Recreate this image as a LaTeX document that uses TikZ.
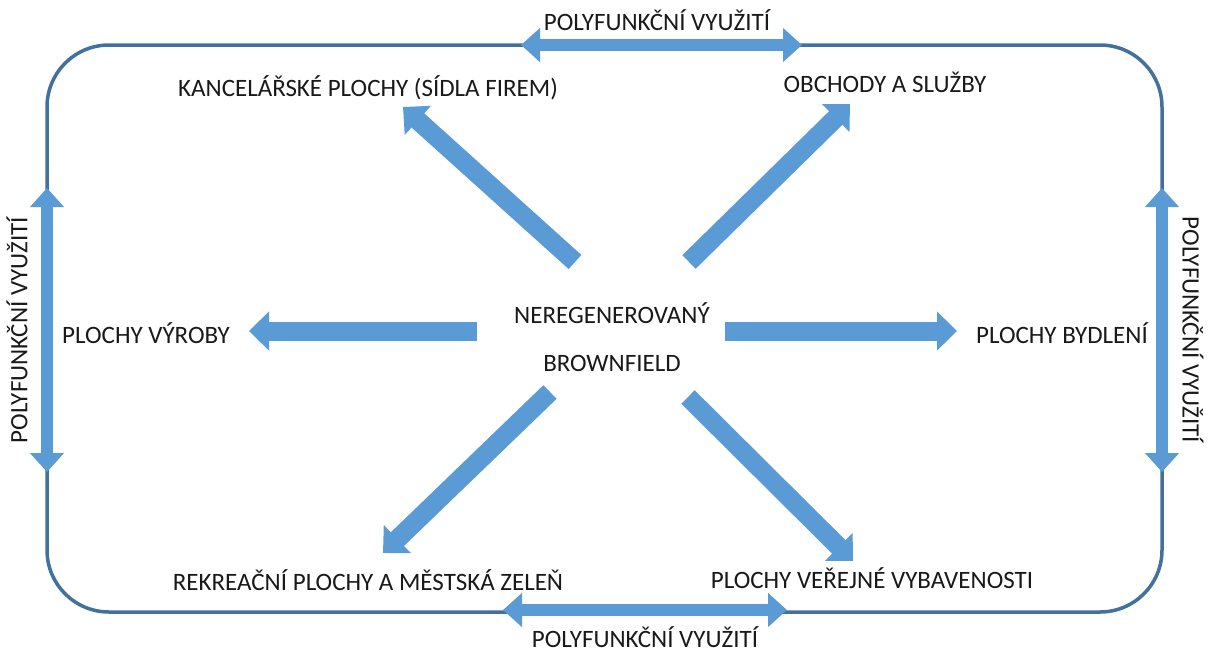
\documentclass[tikz,border=0pt]{standalone}
\usepackage{fontspec}
\setmainfont{Carlito}
\usetikzlibrary{arrows.meta}
\definecolor{frameblue}{HTML}{41719C}
\definecolor{arrowblue}{HTML}{5B9BD5}
\tikzset{
  lbl/.style={font=\fontsize{25}{30}\selectfont, text=black!90, inner sep=0pt},
  frame/.style={draw=frameblue, line width=3.5pt, rounded corners=62pt},
  blockarrow/.style={line width=19pt, draw=arrowblue, -{Triangle[width=38pt,length=20pt,fill=arrowblue]}},
  polyarrow/.style={line width=12pt, draw=arrowblue, {Triangle[width=33pt,length=19pt,fill=arrowblue]}-{Triangle[width=33pt,length=19pt,fill=arrowblue]}}
}
\begin{document}
\begin{tikzpicture}[x=1pt,y=-1pt]
\useasboundingbox (0,0) rectangle (1208,649);
\fill[white] (0,0) rectangle (1208,649);
% frame
\node[frame, minimum width=1115pt, minimum height=567pt, inner sep=0pt] (frm) at (604.5,328.5) {};
% polyfunctional arrows
\coordinate (tA) at (521,45); \coordinate (tB) at (802,45);
\coordinate (bA) at (503,610); \coordinate (bB) at (787,610);
\coordinate (lA) at (47,188); \coordinate (lB) at (47,472);
\coordinate (rA) at (1162,188); \coordinate (rB) at (1162,472);
\draw[polyarrow] (tA) -- (tB);
\draw[polyarrow] (bA) -- (bB);
\draw[polyarrow] (lA) -- (lB);
\draw[polyarrow] (rA) -- (rB);
% polyfunctional labels
\node[lbl] (pt) at (657,20) {POLYFUNKČNÍ VYUŽITÍ};
\node[lbl] (pb) at (645,637) {POLYFUNKČNÍ VYUŽITÍ};
\node[lbl, rotate=90] (pl) at (17,330) {POLYFUNKČNÍ VYUŽITÍ};
\node[lbl, rotate=-90] (pr) at (1193,330) {POLYFUNKČNÍ VYUŽITÍ};
% center
\node[lbl] (c1) at (612,313) {NEREGENEROVANÝ};
\node[lbl] (c2) at (612,363) {BROWNFIELD};
% targets
\node[lbl] (kan) at (368,88) {KANCELÁŘSKÉ PLOCHY (SÍDLA FIREM)};
\node[lbl] (obc) at (885,82) {OBCHODY A SLUŽBY};
\node[lbl] (vyr) at (146,333) {PLOCHY VÝROBY};
\node[lbl] (byd) at (1062,333) {PLOCHY BYDLENÍ};
\node[lbl] (rek) at (368,580) {REKREAČNÍ PLOCHY A MĚSTSKÁ ZELEŇ};
\node[lbl] (ver) at (872,578) {PLOCHY VEŘEJNÉ VYBAVENOSTI};
% radial arrow ends
\coordinate (s1) at (575,262); \coordinate (e1) at (403,107);
\coordinate (s2) at (689,262); \coordinate (e2) at (850,104);
\coordinate (s3) at (477,331); \coordinate (e3) at (249,331);
\coordinate (s4) at (725,331); \coordinate (e4) at (957,331);
\coordinate (s5) at (550,392); \coordinate (e5) at (383,553);
\coordinate (s6) at (688,397); \coordinate (e6) at (853,561);
\foreach \i in {1,...,6} {\draw[blockarrow] (s\i) -- (e\i);}
\end{tikzpicture}
\end{document}
